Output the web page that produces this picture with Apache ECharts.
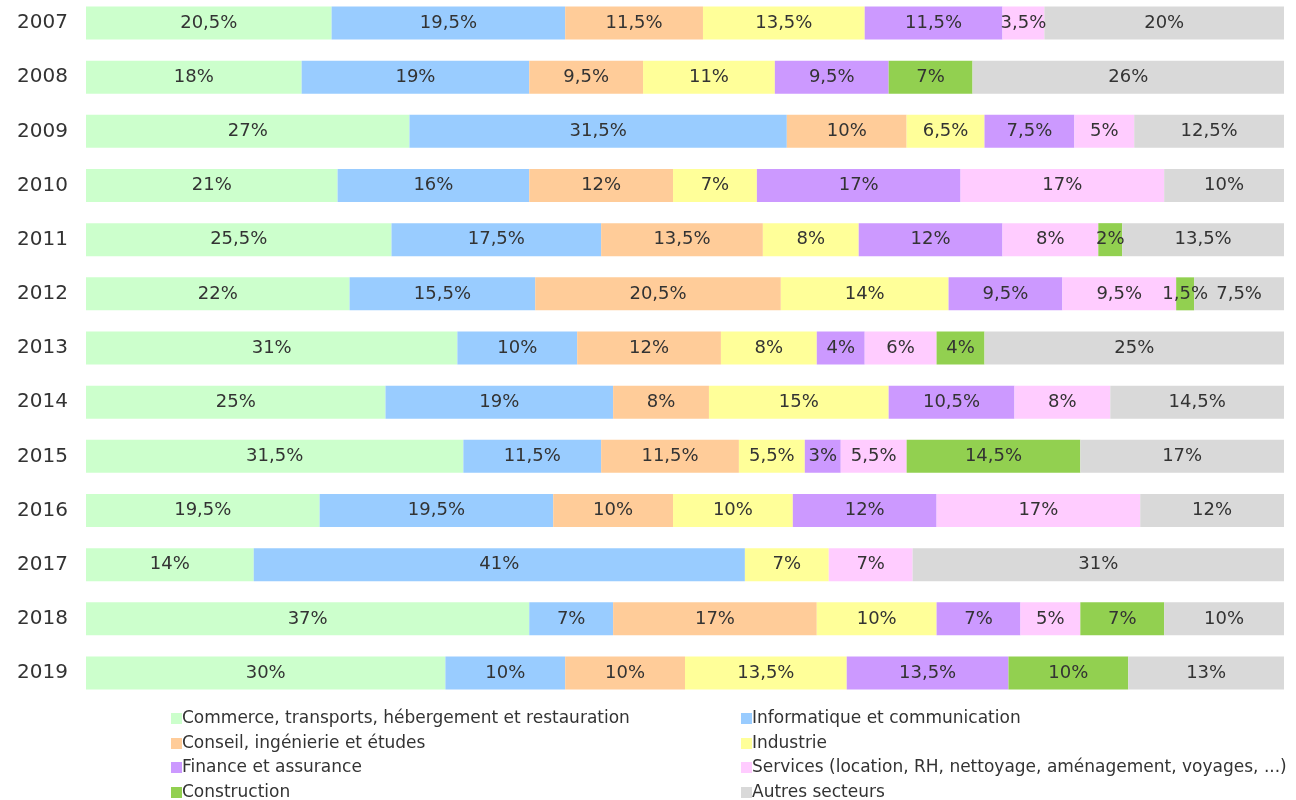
<!DOCTYPE html>
<html><head><meta charset="utf-8">
<script src="https://cdn.jsdelivr.net/npm/echarts@6/dist/echarts.min.js"></script>
<style>html,body{margin:0;padding:0;background:#fff}#c{width:1296px;height:800px}</style>
</head><body><div id="c"></div>
<script>
const years = ['2007','2008','2009','2010','2011','2012','2013','2014','2015','2016','2017','2018','2019'];
const sectors = ['Commerce, transports, hébergement et restauration','Informatique et communication','Conseil, ingénierie et études','Industrie','Finance et assurance','Services (location, RH, nettoyage, aménagement, voyages, ...)','Construction','Autres secteurs'];
const colors = ['#ccffcc','#99ccff','#ffcc99','#ffff99','#cc99ff','#ffccff','#92d050','#d9d9d9'];
const commerce    = [20.5,18,27,21,25.5,22,31,25,31.5,19.5,14,37,30];
const informatique= [19.5,19,31.5,16,17.5,15.5,10,19,11.5,19.5,41,7,10];
const conseil     = [11.5,9.5,10,12,13.5,20.5,12,8,11.5,10,null,17,10];
const industrie   = [13.5,11,6.5,7,8,14,8,15,5.5,10,7,10,13.5];
const finance     = [11.5,9.5,7.5,17,12,9.5,4,10.5,3,12,null,7,13.5];
const services    = [3.5,null,5,17,8,9.5,6,8,5.5,17,7,5,null];
const construction= [null,7,null,null,2,1.5,4,null,14.5,null,null,7,10];
const autres      = [20,26,12.5,10,13.5,7.5,25,14.5,17,12,31,10,13];
const values = [commerce,informatique,conseil,industrie,finance,services,construction,autres];

const font = 'DejaVu Sans';
const series = sectors.map((name,i)=>({
  name, type:'bar', stack:'total', barWidth:33,
  itemStyle:{color:colors[i]},
  data: values[i],
  label:{show:true, position:'inside', color:'#333', fontSize:18, fontFamily:font,
    formatter:p=> p.value==null? '' : String(p.value).replace('.',',')+'%'}
}));
// legend layout: two columns, four rows
const legendOrder = [[0,2,4,6],[1,3,5,7]];
const colLeft = [166,736];
const rowTop = [710,735,759,784];
const legends = [];
legendOrder.forEach((col,ci)=>col.forEach((si,ri)=>{
  legends.push({data:[sectors[si]],left:colLeft[ci],top:rowTop[ri],padding:[0,5,0,5],
    itemWidth:11,itemHeight:11,icon:'rect',
    textStyle:{color:'#333',fontSize:17,fontFamily:font,padding:[0,0,0,-5]}});
}));
const chart = echarts.init(document.getElementById('c'));
chart.setOption({
  animation:false,
  grid:{left:86,right:12,top:23,bottom:127},
  xAxis:{type:'value',min:0,max:100,show:false},
  yAxis:{type:'category',data:years,inverse:true,boundaryGap:false,
    axisLine:{show:false},axisTick:{show:false},
    axisLabel:{color:'#333',fontSize:20,fontFamily:font,margin:18}},
  legend:legends,
  series
});
</script></body></html>
